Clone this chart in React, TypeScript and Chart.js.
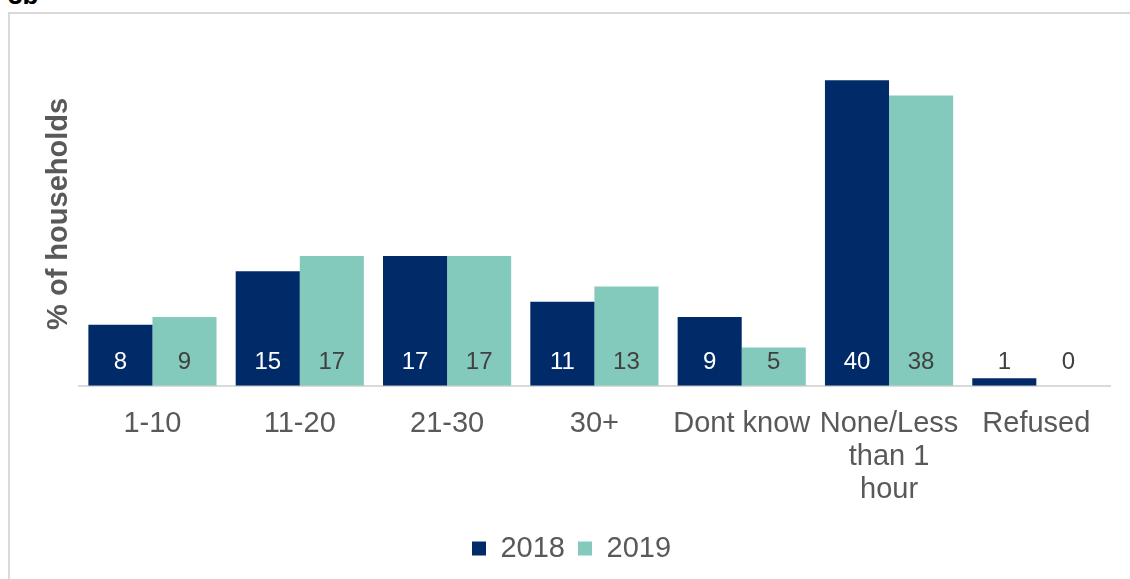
import React, { useEffect, useRef } from "react";
import { Chart, registerables } from "chart.js";

Chart.register(...registerables);

const categories: (string | string[])[] = ["1-10", "11-20", "21-30", "30+", "Dont know", ["None/Less", "than 1", "hour"], "Refused"];
const values2018 = [8, 15, 17, 11, 9, 40, 1];
const values2019 = [9, 17, 17, 13, 5, 38, 0];
const seriesNames = ["2018", "2019"];
const colors = ["#002B68", "#83CABC"];
const FONT = "'Liberation Sans', Arial, sans-serif";

const labelPlugin = {
  id: "barLabels",
  afterDatasetsDraw(chart: any) {
    const ctx = chart.ctx;
    const yScale = chart.scales.y;
    const base = yScale.getPixelForValue(0);
    ctx.save();
    ctx.font = `24px ${FONT}`;
    ctx.textAlign = "center";
    ctx.textBaseline = "middle";
    chart.data.datasets.forEach((ds: any, di: number) => {
      const meta = chart.getDatasetMeta(di);
      meta.data.forEach((bar: any, i: number) => {
        const v = ds.data[i];
        const inside = v >= 3;
        ctx.fillStyle = inside && di === 0 ? "#ffffff" : "#404040";
        ctx.fillText(String(v), bar.x, base - 23);
      });
    });
    ctx.restore();
  },
};

export default function App() {
  const ref = useRef<HTMLCanvasElement>(null);
  useEffect(() => {
    if (!ref.current) return;
    const chart = new Chart(ref.current, {
      type: "bar",
      data: {
        labels: categories,
        datasets: [
          { label: seriesNames[0], data: values2018, backgroundColor: colors[0], barPercentage: 1, categoryPercentage: 0.87 },
          { label: seriesNames[1], data: values2019, backgroundColor: colors[1], barPercentage: 1, categoryPercentage: 0.87 },
        ],
      },
      options: {
        animation: false,
        responsive: false,
        maintainAspectRatio: false,
        layout: { padding: { left: 33, right: 20, top: 42, bottom: 6 } },
        scales: {
          x: {
            grid: { display: false },
            border: { display: true, color: "#d9d9d9", width: 2 },
            ticks: {
              color: "#595959",
              font: { size: 29, family: FONT, lineHeight: 1.14 },
              maxRotation: 0,
              autoSkip: false,
              padding: 14,
            },
          },
          y: {
            min: 0,
            max: 45,
            grid: { display: false },
            border: { display: false },
            ticks: { display: false },
            title: {
              display: true,
              text: "% of households",
              color: "#595959",
              font: { size: 29, weight: "bold", family: FONT },
              padding: { top: 9, bottom: -6 },
            },
          },
        },
        plugins: {
          legend: {
            position: "bottom",
            labels: {
              boxWidth: 14,
              boxHeight: 14,
              color: "#595959",
              font: { size: 29, family: FONT },
              padding: 13,
            },
          },
          tooltip: { enabled: false },
        },
      },
      plugins: [labelPlugin],
    });
    return () => chart.destroy();
  }, []);

  return (
    <div style={{ position: "absolute", left: 0, top: 0, width: 1130, height: 579, overflow: "hidden", background: "#fff" }}>
      <div style={{ position: "absolute", left: 8, top: 12, width: 1200, height: 700, borderLeft: "2px solid #d9d9d9", borderTop: "2px solid #d9d9d9" }} />
      <div style={{ position: "absolute", left: 8, top: -18, fontFamily: FONT, fontWeight: "bold", fontSize: 26, lineHeight: 1, color: "#000" }}>3b</div>
      <canvas ref={ref} width={1130} height={579} style={{ position: "absolute", left: 0, top: 0 }} />
    </div>
  );
}
